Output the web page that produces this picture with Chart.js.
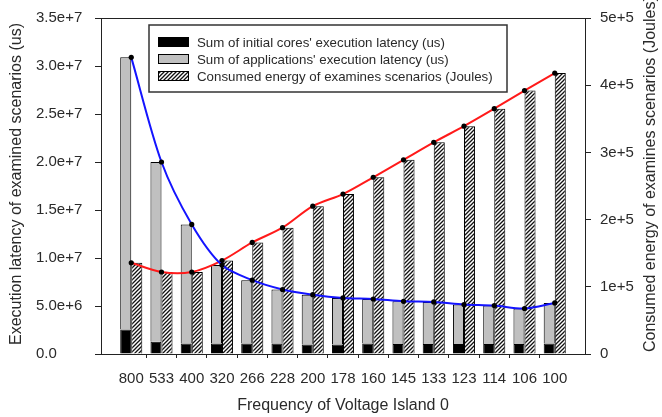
<!DOCTYPE html>
<html>
<head>
<meta charset="utf-8">
<script src="https://cdn.jsdelivr.net/npm/chart.js@4"></script>
<style>
  html, body { margin: 0; padding: 0; background: #fff; }
  #wrap { width: 662px; height: 417px; position: relative; }
</style>
</head>
<body>
<div id="wrap"><canvas id="chart"></canvas></div>
<script>
// frequency of voltage island 0 (x categories)
const freqLabels = ['800', '533', '400', '320', '266', '228', '200', '178', '160', '145', '133', '123', '114', '106', '100'];

// latency (us), left axis
const initLatency  = [2.55e6, 1.27e6, 1.10e6, 1.10e6, 1.10e6, 1.10e6, 1.00e6, 1.00e6, 1.10e6, 1.05e6, 1.05e6, 1.05e6, 1.05e6, 1.05e6, 1.10e6];
const appLatency   = [28.35e6, 18.73e6, 12.40e6, 8.16e6, 6.59e6, 5.62e6, 5.18e6, 4.84e6, 4.63e6, 4.44e6, 4.37e6, 4.10e6, 3.99e6, 3.69e6, 4.22e6];
const totalLatency = [30.9e6, 20.0e6, 13.5e6, 9.26e6, 7.69e6, 6.72e6, 6.18e6, 5.84e6, 5.73e6, 5.49e6, 5.42e6, 5.15e6, 5.04e6, 4.74e6, 5.32e6];

// energy (Joules), right axis
const energy = [135.7e3, 122e3, 122e3, 139e3, 166e3, 188e3, 220e3, 238e3, 263e3, 289e3, 315e3, 339e3, 365e3, 392e3, 418e3];

const legendNames = [
  "Sum of initial cores' execution latency (us)",
  "Sum of applications' execution latency (us)",
  "Consumed energy of examines scenarios (Joules)"
];

const textColor = '#2a2a2a';
const axisColor = '#222';

// one empty slot on each side, like the original axis
function pad(arr) { return [null, ...arr, null]; }

function hatchPattern() {
  const c = document.createElement('canvas');
  c.width = 4; c.height = 4;
  const g = c.getContext('2d');
  g.fillStyle = '#fff';
  g.fillRect(0, 0, 4, 4);
  g.strokeStyle = '#111';
  g.lineWidth = 1.3;
  g.beginPath();
  g.moveTo(0, 4); g.lineTo(4, 0);
  g.moveTo(-1, 1); g.lineTo(1, -1);
  g.moveTo(3, 5); g.lineTo(5, 3);
  g.stroke();
  return g.createPattern(c, 'repeat');
}
const hatch = hatchPattern();

const framePlugin = {
  id: 'frame',
  afterDraw(chart) {
    const ctx = chart.ctx;
    const a = chart.chartArea;
    ctx.save();

    // top border of the plot frame
    ctx.strokeStyle = axisColor;
    ctx.lineWidth = 1;
    ctx.beginPath();
    ctx.moveTo(a.left, a.top + 0.5);
    ctx.lineTo(a.right, a.top + 0.5);
    ctx.stroke();

    // legend box
    const bx = a.left + 48, by = a.top + 7, bw = 358, bh = 67;
    ctx.fillStyle = '#fff';
    ctx.fillRect(bx, by, bw, bh);
    ctx.strokeStyle = '#333';
    ctx.lineWidth = 1.5;
    ctx.strokeRect(bx, by, bw, bh);

    const fills = ['#000', '#c0c0c0', hatch];
    ctx.font = '13.3px "Liberation Sans", Arial, sans-serif';
    ctx.textBaseline = 'middle';
    ctx.textAlign = 'left';
    for (let i = 0; i < 3; i++) {
      const cy = by + 17 + i * 17;
      ctx.fillStyle = fills[i];
      ctx.fillRect(bx + 9, cy - 5, 31, 10);
      ctx.strokeStyle = '#000';
      ctx.lineWidth = 1;
      ctx.strokeRect(bx + 9.5, cy - 4.5, 30, 9);
      ctx.fillStyle = textColor;
      ctx.fillText(legendNames[i], bx + 48, cy + 1);
    }

    // y axis titles, both read bottom to top
    ctx.font = '16px "Liberation Sans", Arial, sans-serif';
    ctx.fillStyle = textColor;
    ctx.save();
    ctx.translate(17, (a.top + a.bottom) / 2 - 2);
    ctx.rotate(-Math.PI / 2);
    ctx.textAlign = 'center';
    ctx.fillText('Execution latency of examined scenarios (us)', 0, 0);
    ctx.restore();

    ctx.save();
    ctx.translate(651, a.bottom - 2);
    ctx.rotate(-Math.PI / 2);
    ctx.textAlign = 'left';
    ctx.fillText('Consumed energy of examines scenarios (Joules)', 0, 0);
    ctx.restore();

    ctx.restore();
  }
};

Chart.defaults.font.family = '"Liberation Sans", Arial, sans-serif';
Chart.defaults.color = textColor;

const ctx = document.getElementById('chart').getContext('2d');
new Chart(ctx, {
  type: 'bar',
  data: {
    labels: pad(freqLabels),
    datasets: [
      {
        type: 'line',
        label: 'latency total',
        data: pad(totalLatency),
        yAxisID: 'y',
        borderColor: '#1414ff',
        borderWidth: 2,
        tension: 0.3,
        pointRadius: 2.6,
        pointBackgroundColor: '#000',
        pointBorderWidth: 0,
        order: 0
      },
      {
        type: 'line',
        label: 'energy',
        data: pad(energy),
        yAxisID: 'y1',
        borderColor: '#ff1a1a',
        borderWidth: 2,
        tension: 0.3,
        pointRadius: 2.6,
        pointBackgroundColor: '#000',
        pointBorderWidth: 0,
        order: 0
      },
      {
        label: legendNames[0],
        data: pad(initLatency),
        yAxisID: 'y',
        stack: 'lat',
        backgroundColor: '#000',
        borderColor: '#000',
        borderWidth: 1,
        order: 1
      },
      {
        label: legendNames[1],
        data: pad(appLatency),
        yAxisID: 'y',
        stack: 'lat',
        backgroundColor: '#c0c0c0',
        borderColor: '#000',
        borderWidth: 1,
        order: 1
      },
      {
        label: legendNames[2],
        data: pad(energy),
        yAxisID: 'y1',
        stack: 'en',
        backgroundColor: hatch,
        borderColor: '#000',
        borderWidth: 1,
        order: 1
      }
    ]
  },
  options: {
    responsive: true,
    maintainAspectRatio: false,
    animation: false,
    categoryPercentage: 0.73,
    barPercentage: 1,
    layout: { padding: { left: 36, top: 14, right: 0, bottom: 0 } },
    plugins: {
      legend: { display: false },
      tooltip: { enabled: false }
    },
    scales: {
      x: {
        type: 'category',
        offset: false,
        grid: {
          drawOnChartArea: false,
          tickLength: 4,
          color: c => freqLabels[c.index - 1] ? axisColor : 'rgba(0,0,0,0)'
        },
        border: { color: axisColor, width: 1 },
        ticks: { color: textColor, font: { size: 15 }, padding: 12, autoSkip: false, maxRotation: 0 },
        title: {
          display: true,
          text: 'Frequency of Voltage Island 0',
          color: textColor,
          font: { size: 16 },
          padding: { top: 0, bottom: 2 }
        },
        afterFit: s => { s.height = 63; }
      },
      y: {
        position: 'left',
        min: 0,
        max: 3.5e7,
        grid: { drawOnChartArea: false, tickLength: 6, color: axisColor },
        border: { color: axisColor, width: 1 },
        ticks: {
          stepSize: 5e6,
          crossAlign: 'far',
          color: textColor,
          font: { size: 15 },
          callback: v => v === 0 ? '0.0' : v.toExponential(1)
        },
        afterFit: s => { s.width = 65; }
      },
      y1: {
        position: 'right',
        min: 0,
        max: 5e5,
        grid: { drawOnChartArea: false, tickLength: 6, color: axisColor },
        border: { color: axisColor, width: 1 },
        ticks: {
          stepSize: 1e5,
          padding: 9,
          color: textColor,
          font: { size: 15 },
          callback: v => v === 0 ? '0' : v.toExponential(0)
        },
        afterFit: s => { s.width = 77; }
      }
    }
  },
  plugins: [framePlugin]
});
</script>
</body>
</html>
